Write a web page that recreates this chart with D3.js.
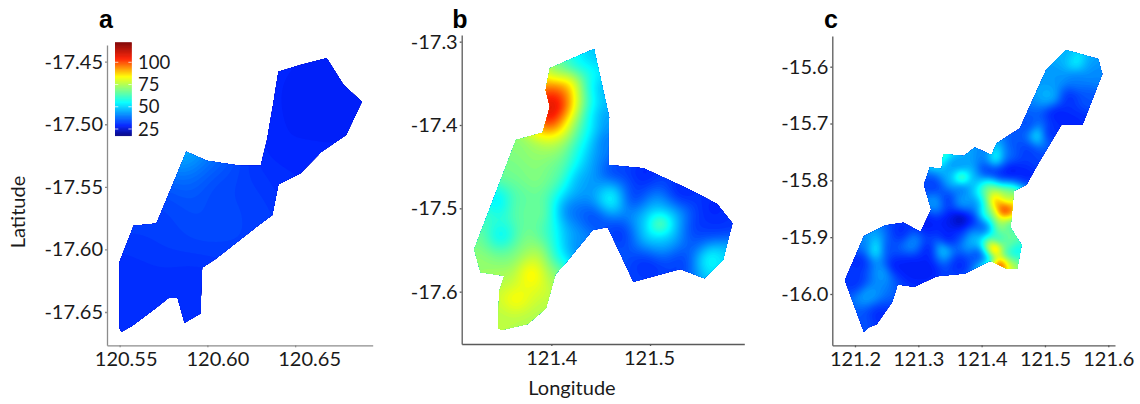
<!DOCTYPE html>
<html>
<head>
<meta charset="utf-8">
<script src="https://cdn.jsdelivr.net/npm/d3@7"></script>
<style>
  html, body { margin: 0; padding: 0; background: #fff; }
  text { font-family: Lato, "Noto Sans", sans-serif; fill: #1a1a1a; }
  .letter { font-family: "Liberation Sans", sans-serif; font-weight: bold; font-size: 25px; fill: #000; }
</style>
</head>
<body>
<script>

// Outlines of the three sites as [lon, lat].

var outlineA = [[120.55,-17.6125],[120.55,-17.663],[120.551,-17.6658],[120.557,-17.6612],[120.569,-17.6485],
  [120.578,-17.6386],[120.583,-17.6386],[120.587,-17.6586],[120.596,-17.6511],[120.597,-17.6146],[120.605,-17.6072],
  [120.628,-17.5819],[120.637,-17.5725],[120.6405,-17.548],[120.653,-17.5392],[120.665,-17.5219],[120.679,-17.5086],
  [120.688,-17.482],[120.6776,-17.4686],[120.668,-17.4473],[120.653,-17.4527],[120.6405,-17.458],[120.6376,-17.4833],
  [120.634,-17.5126],[120.6304,-17.5331],[120.6186,-17.5331],[120.5996,-17.5291],[120.588,-17.5219],[120.571,-17.5792],
  [120.558,-17.5811],[120.55,-17.6098]];

var outlineB = [[121.4432,-17.3088],[121.3986,-17.332],[121.3943,-17.358],[121.3986,-17.378],[121.3912,-17.4092],
  [121.3642,-17.418],[121.3219,-17.5492],[121.3283,-17.5768],[121.3523,-17.5808],[121.3472,-17.6],[121.3462,-17.644],
  [121.3496,-17.646],[121.376,-17.6388],[121.3946,-17.62],[121.4041,-17.5792],[121.4155,-17.564],[121.4419,-17.526],
  [121.4571,-17.5224],[121.4832,-17.588],[121.5306,-17.5728],[121.555,-17.584],[121.574,-17.562],[121.5834,-17.518],
  [121.5679,-17.4948],[121.5409,-17.478],[121.4933,-17.452],[121.4578,-17.448],[121.4578,-17.412],[121.4585,-17.39]];

var outlineC = [[121.533,-15.5707],[121.5025,-15.6047],[121.4604,-15.7086],[121.4236,-15.735],[121.4157,-15.7556],
  [121.3894,-15.742],[121.372,-15.7573],[121.3394,-15.7538],[121.3368,-15.7802],[121.3184,-15.7773],[121.3089,-15.8072],
  [121.3205,-15.8512],[121.3036,-15.8906],[121.2763,-15.8747],[121.2473,-15.8794],[121.2142,-15.8982],[121.1842,-15.9757],
  [121.2142,-16.0667],[121.2226,-16.0579],[121.2342,-16.0532],[121.2589,-16.0138],[121.2673,-15.9833],[121.2936,-15.9874],
  [121.3289,-15.9686],[121.3736,-15.964],[121.4131,-15.9416],[121.4394,-15.9551],[121.4562,-15.9557],[121.463,-15.914],
  [121.4457,-15.883],[121.4509,-15.8184],[121.4709,-15.8072],[121.4893,-15.7702],[121.5262,-15.7016],[121.5594,-15.7016],
  [121.5904,-15.6129],[121.584,-15.5865]];

// Readings estimated from the colours, as [lon, lat, value].

var readingsA = [[120.588,-17.526,48],[120.596,-17.534,38],[120.584,-17.542,38],[120.605,-17.55,33],[120.577,-17.561,33],
  [120.567,-17.587,32],[120.554,-17.627,30],[120.558,-17.654,30],[120.59,-17.64,30],[120.619,-17.561,33],[120.634,-17.539,31],
  [120.643,-17.521,29],[120.662,-17.486,28],[120.653,-17.462,29],[120.679,-17.486,29],[120.668,-17.513,29],[120.649,-17.539,30]];

var readingsB = [[121.4426,-17.314,48],[121.4257,-17.326,55],[121.4054,-17.336,65],[121.4003,-17.346,88],[121.4122,-17.35,88],
  [121.402,-17.358,104],[121.4155,-17.36,100],[121.4257,-17.362,78],[121.4392,-17.358,55],[121.451,-17.358,45],
  [121.402,-17.378,114],[121.4139,-17.378,104],[121.4223,-17.382,82],[121.4375,-17.386,55],[121.4527,-17.39,42],
  [121.3986,-17.398,110],[121.4122,-17.4,90],[121.424,-17.404,68],[121.4358,-17.408,55],[121.4527,-17.418,38],
  [121.3919,-17.408,88],[121.4054,-17.412,82],[121.3682,-17.422,70],[121.3885,-17.426,72],[121.4122,-17.426,70],
  [121.4291,-17.43,55],[121.446,-17.438,42],[121.4629,-17.454,32],[121.4933,-17.458,29],[121.5305,-17.482,29],
  [121.5643,-17.502,29],[121.5778,-17.518,31],[121.3581,-17.458,68],[121.3851,-17.462,70],[121.4088,-17.458,66],
  [121.4257,-17.466,46],[121.4426,-17.474,42],[121.4595,-17.488,58],[121.4831,-17.486,32],[121.5102,-17.518,85],
  [121.4967,-17.516,47],[121.5254,-17.518,47],[121.5119,-17.504,45],[121.5119,-17.534,47],[121.544,-17.522,31],
  [121.5643,-17.526,31],[121.5609,-17.558,58],[121.5744,-17.558,50],[121.5474,-17.542,35],[121.5305,-17.566,32],
  [121.4967,-17.57,30],[121.4831,-17.584,33],[121.4696,-17.53,31],[121.4426,-17.51,33],[121.4223,-17.506,38],
  [121.4155,-17.53,45],[121.4257,-17.55,40],[121.4088,-17.558,55],[121.402,-17.53,60],[121.3851,-17.506,68],
  [121.3682,-17.506,66],[121.3479,-17.494,50],[121.3361,-17.51,62],[121.3598,-17.494,65],[121.3479,-17.534,53],
  [121.3277,-17.538,68],[121.3277,-17.562,72],[121.3547,-17.558,68],[121.3784,-17.542,70],[121.3817,-17.578,88],
  [121.3851,-17.558,78],[121.4003,-17.574,72],[121.3547,-17.582,75],[121.3648,-17.61,85],[121.3851,-17.602,80],
  [121.3513,-17.63,76],[121.375,-17.634,75],[121.3919,-17.62,75]];

var readingsC = [[121.418,-15.832,92],[121.439,-15.855,112],[121.429,-15.847,98],[121.403,-15.835,58],[121.413,-15.817,70],
  [121.439,-15.829,72],[121.447,-15.858,88],[121.413,-15.858,65],[121.434,-15.876,74],[121.392,-15.841,40],[121.445,-15.876,60],
  [121.403,-15.882,36],[121.42,-15.921,122],[121.413,-15.92,75],[121.426,-15.908,55],[121.439,-15.911,68],[121.413,-15.935,45],
  [121.429,-15.948,108],[121.447,-15.95,78],[121.455,-15.929,52],[121.437,-15.929,60],[121.458,-15.94,65],[121.368,-15.795,76],
  [121.353,-15.794,46],[121.387,-15.797,46],[121.368,-15.779,42],[121.368,-15.811,38],[121.339,-15.758,62],[121.35,-15.77,42],
  [121.422,-15.758,60],[121.408,-15.753,40],[121.439,-15.758,38],[121.366,-15.87,20],[121.353,-15.87,27],[121.381,-15.87,28],
  [121.381,-15.9,47],[121.387,-15.908,47],[121.371,-15.894,31],[121.338,-15.921,50],[121.318,-15.923,29],[121.289,-15.909,42],
  [121.233,-15.92,56],[121.218,-15.917,40],[121.25,-15.92,34],[121.246,-15.961,44],[121.218,-16.001,44],[121.203,-15.982,31],
  [121.216,-16.046,35],[121.234,-16.04,30],[121.26,-15.952,28],[121.287,-15.952,28],[121.313,-15.952,28],[121.276,-15.894,30],
  [121.208,-15.94,30],[121.328,-15.838,44],[121.37,-15.838,44],[121.324,-15.811,32],[121.345,-15.835,31],[121.313,-15.876,28],
  [121.345,-15.905,28],[121.366,-15.946,30],[121.397,-15.929,31],[121.55,-15.589,54],[121.534,-15.579,46],[121.571,-15.594,44],
  [121.581,-15.612,41],[121.508,-15.653,46],[121.518,-15.618,43],[121.55,-15.623,40],[121.566,-15.659,35],[121.539,-15.656,31],
  [121.518,-15.682,29],[121.489,-15.719,54],[121.476,-15.706,34],[121.503,-15.717,30],[121.539,-15.7,29],[121.555,-15.694,30],
  [121.471,-15.747,32],[121.445,-15.782,27],[121.471,-15.788,29],[121.487,-15.764,33],[121.429,-15.788,30],[121.408,-15.782,32],
  [121.455,-15.735,35]];

var xTicksA = [120.55, 120.60, 120.65],
    yTicksA = [-17.45, -17.50, -17.55, -17.60, -17.65],
    xTicksB = [121.4, 121.5],
    yTicksB = [-17.3, -17.4, -17.5, -17.6],
    xTicksC = [121.2, 121.3, 121.4, 121.5, 121.6],
    yTicksC = [-15.6, -15.7, -15.8, -15.9, -16.0],
    legendTicks = [25, 50, 75, 100];

var jetValues = [17.5, 29, 55, 84, 104, 122.4],
    jetColors = ['#000080', '#0020ff', '#00ffff', '#ffff00', '#ff2000', '#7f0000'];

var width = 1140,
    height = 404,
    cell = 2;

var color = d3.scaleLinear().domain(jetValues).range(jetColors).clamp(true);

var svg = d3.select('body')
  .append('svg')
  .attr('width', width)
  .attr('height', height)
  .style('display', 'block');

var defs = svg.append('defs');

// Each panel: the axis ranges are in pixels, the domains are what those
// pixel ends read on the ticks.

drawPanel({
  id: 'a', outline: outlineA, readings: readingsA, blur: 5, power: 2,
  xDomain: [120.5428, 120.6942], xRange: [107, 372.7],
  yDomain: [-17.6766, -17.4367], yRange: [345.3, 45],
  xTicks: xTicksA, yTicks: yTicksA, digits: 2, axisColor: '#8c8c8c', letterX: 106,
  xLabelShift: [6, 10, 14]
});

drawPanel({
  id: 'b', outline: outlineB, readings: readingsB, blur: 3, power: 2,
  xDomain: [121.3092, 121.5955], xRange: [461.7, 744.3],
  yDomain: [-17.6628, -17.292], yRange: [344, 35],
  xTicks: xTicksB, yTicks: yTicksB, digits: 1, axisColor: '#5a5a5a', letterX: 460,
  xLabelShift: [0, -1]
});

drawPanel({
  id: 'c', outline: outlineC, readings: readingsC, blur: 1.5, power: 2.2,
  xDomain: [121.1642, 121.6106], xRange: [832.3, 1115],
  yDomain: [-16.0903, -15.546], yRange: [345.3, 36],
  xTicks: xTicksC, yTicks: yTicksC, digits: 1, axisColor: '#5a5a5a', letterX: 831,
  xLabelShift: [0, 0, 0, 0, 0]
});

function drawPanel(p) {
  var x = d3.scaleLinear().domain(p.xDomain).range(p.xRange),
      y = d3.scaleLinear().domain(p.yDomain).range(p.yRange);

  var g = svg.append('g');

  var outlinePath = d3.line()
    .x(function(d) { return x(d[0]); })
    .y(function(d) { return y(d[1]); })
    .curve(d3.curveLinearClosed);

  defs.append('clipPath')
    .attr('id', 'clip-' + p.id)
    .append('path')
    .attr('d', outlinePath(p.outline));

  // Inverse distance weighting of the readings over a pixel grid, smoothed,
  // then contour bands coloured through the jet scale.

  var x0 = p.xRange[0],
      y0 = p.yRange[1],
      nx = Math.ceil((p.xRange[1] - p.xRange[0]) / cell) + 1,
      ny = Math.ceil((p.yRange[0] - p.yRange[1]) / cell) + 1;

  var points = p.readings.map(function(d) { return [x(d[0]), y(d[1]), d[2]]; });

  var grid = new Float64Array(nx * ny);
  for (var j = 0; j < ny; j++) {
    for (var i = 0; i < nx; i++) {
      var px = x0 + i * cell,
          py = y0 + j * cell,
          sum = 0,
          total = 0;
      points.forEach(function(q) {
        var d2 = (px - q[0]) * (px - q[0]) + (py - q[1]) * (py - q[1]),
            w = 1 / Math.pow(d2 + 16, p.power);
        sum += w * q[2];
        total += w;
      });
      grid[j * nx + i] = sum / total;
    }
  }

  d3.blur2({data: grid, width: nx, height: ny}, p.blur);

  var contours = d3.contours()
    .size([nx, ny])
    .thresholds(d3.range(16, 122, 1))(Array.from(grid));

  var toPixels = d3.geoPath().projection(d3.geoTransform({
    point: function(a, b) {
      this.stream.point(x0 + (a - 0.5) * cell, y0 + (b - 0.5) * cell);
    }
  }));

  g.append('g')
    .attr('clip-path', 'url(#clip-' + p.id + ')')
    .selectAll('path')
    .data(contours)
    .enter().append('path')
    .attr('d', toPixels)
    .attr('fill', function(d) { return color(d.value + 0.5); });

  // Axes

  var xAxis = d3.axisBottom(x)
    .tickValues(p.xTicks)
    .tickSize(2)
    .tickSizeOuter(0)
    .tickPadding(5)
    .tickFormat(function(d) { return d.toFixed(p.digits); });

  var yAxis = d3.axisLeft(y)
    .tickValues(p.yTicks)
    .tickSize(2)
    .tickSizeOuter(0)
    .tickPadding(2)
    .tickFormat(function(d) { return d.toFixed(p.digits); });

  var gx = g.append('g').attr('transform', 'translate(0,' + p.yRange[0] + ')').call(xAxis);
  var gy = g.append('g').attr('transform', 'translate(' + p.xRange[0] + ',0)').call(yAxis);

  [gx, gy].forEach(function(a) {
    a.selectAll('path, line').attr('stroke', p.axisColor).attr('stroke-width', 1.3);
    a.selectAll('text').style('font-size', '20px').style('font-family', 'Lato').attr('fill', '#1a1a1a');
  });

  // The labels under panel a sit a little off their ticks in the reference.
  gx.selectAll('text').attr('dx', function(d, i) { return p.xLabelShift[i]; });

  g.append('text')
    .attr('class', 'letter')
    .attr('x', p.letterX)
    .attr('y', 28)
    .attr('text-anchor', 'middle')
    .text(p.id);
}

// Colour bar in panel a

var legendY = d3.scaleLinear().domain([25, 100]).range([129, 62.3]),
    legendBar = svg.append('g');

legendBar.selectAll('rect')
  .data(d3.range(17.5, 122.4, 0.5))
  .enter().append('rect')
  .attr('x', 115)
  .attr('width', 16.7)
  .attr('y', function(d) { return legendY(d + 0.5); })
  .attr('height', function(d) { return legendY(d) - legendY(d + 0.5) + 0.4; })
  .attr('fill', function(d) { return color(d); });

legendTicks.forEach(function(t) {
  [[115, 118.3], [128.4, 131.7]].forEach(function(e) {
    legendBar.append('line')
      .attr('x1', e[0]).attr('x2', e[1])
      .attr('y1', legendY(t)).attr('y2', legendY(t))
      .attr('stroke', '#fff').attr('stroke-opacity', 0.7);
  });
  legendBar.append('text')
    .attr('x', 138)
    .attr('y', legendY(t))
    .attr('dy', '0.36em')
    .style('font-size', '18.5px')
    .text(t);
});

// Shared axis titles

svg.append('text')
  .attr('transform', 'translate(25,212) rotate(-90)')
  .attr('text-anchor', 'middle')
  .style('font-size', '20px')
  .text('Latitude');

svg.append('text')
  .attr('x', 572)
  .attr('y', 395)
  .attr('text-anchor', 'middle')
  .style('font-size', '20px')
  .text('Longitude');

</script>
</body>
</html>
